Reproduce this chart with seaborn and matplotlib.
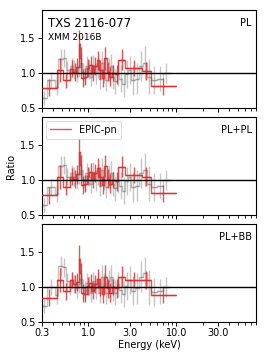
import numpy as np
import pandas as pd
import matplotlib
matplotlib.use("Agg")
import matplotlib.pyplot as plt
import seaborn as sns
from matplotlib.ticker import FixedLocator, FixedFormatter, NullFormatter

# ---------------- data ----------------
panel_labels = ["PL", "PL+PL", "PL+BB"]
source_name = "TXS 2116-077"
obs_name = "XMM 2016B"
xticks = [0.3, 1.0, 3.0, 10.0, 30.0]
xtick_labels = ["0.3", "1.0", "3.0", "10.0", "30.0"]
yticks = [0.5, 1.0, 1.5]

# EPIC-pn bins (keV)
pn_edges = [0.30, 0.44, 0.52, 0.62, 0.68, 0.73, 0.78, 0.80, 0.84, 0.90, 0.96,
            1.03, 1.10, 1.17, 1.25, 1.33, 1.42, 1.52, 1.62, 1.73, 1.85, 2.00,
            2.20, 2.65, 4.10, 5.10, 10.0]
pn_pl = [0.79, 1.04, 0.90, 1.06, 1.02, 1.08, 1.42, 1.22, 0.93, 0.95, 1.07,
         1.12, 1.00, 1.10, 1.18, 1.05, 0.93, 1.21, 1.02, 0.95, 1.00, 0.98,
         1.19, 1.07, 1.03, 0.81]
pn_plpl = [0.78, 1.04, 0.90, 1.05, 1.02, 1.08, 1.40, 1.21, 0.93, 0.95, 1.06,
           1.12, 1.00, 1.10, 1.17, 1.05, 0.93, 1.20, 1.02, 0.95, 1.00, 0.98,
           1.19, 1.07, 1.05, 0.81]
pn_plbb = [0.85, 1.10, 0.94, 1.10, 1.04, 1.07, 1.40, 1.20, 0.92, 0.90, 1.02,
           1.06, 0.95, 1.04, 1.12, 1.00, 0.90, 1.15, 0.98, 0.92, 1.00, 0.98,
           1.15, 1.10, 1.10, 0.89]
pn_err = [0.12, 0.17, 0.12, 0.12, 0.13, 0.13, 0.20, 0.15, 0.13, 0.12, 0.13,
          0.13, 0.12, 0.13, 0.14, 0.13, 0.13, 0.16, 0.14, 0.14, 0.12, 0.13,
          0.15, 0.11, 0.13, 0.12]

# EPIC-MOS bins (keV)
mos_edges = [0.30, 0.34, 0.42, 0.46, 0.52, 0.56, 0.60, 0.64, 0.68, 0.72, 0.76,
             0.80, 0.85, 0.90, 0.95, 1.00, 1.06, 1.12, 1.18, 1.25, 1.32, 1.40,
             1.48, 1.57, 1.66, 1.76, 1.87, 1.98, 2.10, 2.25, 2.42, 2.62, 2.85,
             3.10, 3.40, 3.75, 4.15, 4.60, 5.20, 6.00, 7.00, 8.50]
mos_pl = [0.65, 0.90, 0.80, 1.20, 1.22, 1.05, 1.00, 1.10, 1.05, 1.00, 1.08,
          1.15, 1.02, 0.98, 1.10, 1.05, 0.95, 1.12, 1.00, 1.08, 0.92, 1.15,
          1.02, 0.90, 1.05, 1.10, 0.95, 0.88, 1.00, 0.92, 0.85, 0.98, 1.05,
          0.90, 0.92, 1.10, 1.15, 0.95, 0.90, 0.92, 1.00]
mos_plpl = [0.65, 0.90, 0.80, 1.20, 1.22, 1.05, 1.00, 1.10, 1.05, 1.00, 1.08,
            1.15, 1.02, 0.98, 1.10, 1.05, 0.95, 1.12, 1.00, 1.08, 0.92, 1.15,
            1.02, 0.90, 1.05, 1.10, 0.95, 0.88, 1.00, 0.92, 0.85, 0.98, 1.05,
            0.90, 0.92, 1.10, 1.15, 0.95, 0.90, 0.92, 1.00]
mos_plbb = [0.73, 1.00, 0.88, 1.30, 1.28, 1.08, 1.00, 1.10, 1.04, 0.98, 1.05,
            1.12, 0.98, 0.95, 1.06, 1.02, 0.92, 1.08, 0.98, 1.05, 0.92, 1.15,
            1.04, 0.92, 1.08, 1.14, 0.98, 0.92, 1.04, 0.96, 0.90, 1.02, 1.10,
            0.95, 0.98, 1.15, 1.20, 1.00, 0.93, 0.94, 1.00]
mos_err = [0.10, 0.12, 0.12, 0.14, 0.13, 0.12, 0.12, 0.12, 0.13, 0.13, 0.13,
           0.13, 0.13, 0.13, 0.14, 0.14, 0.14, 0.14, 0.15, 0.15, 0.15, 0.16,
           0.16, 0.16, 0.17, 0.17, 0.18, 0.18, 0.18, 0.19, 0.19, 0.20, 0.20,
           0.21, 0.22, 0.22, 0.23, 0.25, 0.20, 0.18, 0.14]

pn_sets = [pn_pl, pn_plpl, pn_plbb]
mos_sets = [mos_pl, mos_plpl, mos_plbb]

# ---------------- plotting ----------------
sns.set_style("ticks", {"axes.edgecolor": "black", "text.color": "black",
                        "axes.labelcolor": "black", "xtick.color": "black",
                        "ytick.color": "black"})
plt.rcParams['font.family'] = ['DejaVu Sans']

W, H = 266, 358
fig = plt.figure(figsize=(W / 100, H / 100), dpi=100)
left, right = 42 / W, 256 / W
tops = [10, 117, 224]
ph = 98

red = "#e0282a"


def draw_binned(ax, edges, vals, errs, color, alpha, lw, label=None, z=2):
    edges = np.asarray(edges)
    vals = np.asarray(vals)
    lo, hi = edges[:-1], edges[1:]
    cen = np.sqrt(lo * hi)
    df = pd.DataFrame({"E": edges, "R": np.append(vals, vals[-1])})
    sns.lineplot(data=df, x="E", y="R", ax=ax, drawstyle="steps-post",
                 estimator=None, sort=False, color=color, alpha=alpha,
                 lw=lw, label=label, zorder=z)
    ax.errorbar(cen, vals, yerr=errs, xerr=[cen - lo, hi - cen], fmt="none",
                ecolor=color, alpha=alpha, elinewidth=lw, zorder=z)


for i in range(3):
    top = tops[i]
    ax = fig.add_axes([left, 1 - (top + ph) / H, right - left, ph / H])
    draw_binned(ax, mos_edges, mos_sets[i], mos_err, "gray", 0.45, 1.0, z=2)
    draw_binned(ax, pn_edges, pn_sets[i], pn_err, red, 0.8, 1.0,
                label="EPIC-pn" if i == 1 else None, z=3)
    ax.axhline(1.0, color="black", lw=1.0, zorder=4)
    ax.set_xscale("log")
    ax.set_xlim(0.3, 80)
    ax.set_ylim(0.5, 1.9)
    ax.xaxis.set_major_locator(FixedLocator(xticks))
    ax.yaxis.set_major_locator(FixedLocator(yticks))
    ax.tick_params(axis="both", labelsize=7, length=3, width=0.7, pad=1.5,
                   colors="black")
    ax.tick_params(axis="x", which="minor", length=1.8, width=0.6)
    if i == 2:
        ax.xaxis.set_major_formatter(FixedFormatter(xtick_labels))
        ax.set_xlabel("Energy (keV)", fontsize=7, labelpad=1, color="black")
    else:
        ax.xaxis.set_major_formatter(NullFormatter())
        ax.set_xlabel("")
    ax.xaxis.set_minor_formatter(NullFormatter())
    ax.set_yticklabels(["0.5", "1.0", "1.5"])
    if i == 1:
        ax.set_ylabel("Ratio", fontsize=7, labelpad=3, color="black")
        leg = ax.legend(loc="upper left", fontsize=7, frameon=True,
                        handlelength=2.2, borderpad=0.4, borderaxespad=0.4)
        leg.get_frame().set_linewidth(0.6)
    else:
        ax.set_ylabel("")
        if ax.get_legend() is not None:
            ax.get_legend().remove()
    for s in ax.spines.values():
        s.set_linewidth(0.8)
        s.set_color("black")
    ax.text(0.98, 0.92, panel_labels[i], transform=ax.transAxes,
            ha="right", va="top", fontsize=7, color="black")
    if i == 0:
        ax.text(0.03, 0.93, source_name, transform=ax.transAxes,
                ha="left", va="top", fontsize=8.5, color="black")
        ax.text(0.03, 0.77, obs_name, transform=ax.transAxes,
                ha="left", va="top", fontsize=6.5, color="black")

fig.savefig("out.png", dpi=100)
